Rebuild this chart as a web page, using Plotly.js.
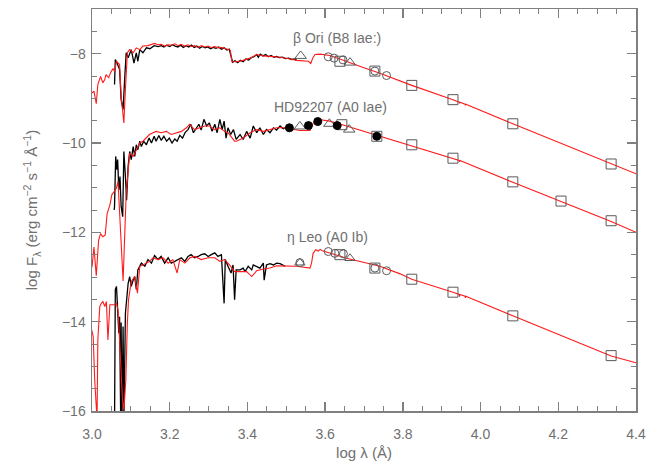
<!DOCTYPE html>
<html>
<head>
<meta charset="utf-8">
<script src="https://cdn.plot.ly/plotly-3.0.1.min.js"></script>
<style>html,body{margin:0;padding:0;background:#fff;}#chart{width:654px;height:467px;}</style>
</head>
<body>
<div id="chart"></div>
<script>
// ---- beta Ori (B8 Iae:) ----
const betaModelX = [3.000,3.005,3.011,3.015,3.022,3.028,3.033,3.036,3.043,3.048,3.054,3.058,3.063,3.067,3.071,3.075,3.082,3.086,3.091,3.097,3.106,3.114,3.123,3.131,3.144,3.161,3.170,3.178,3.187,3.196,3.205,3.213,3.222,3.229,3.238,3.247,3.256,3.264,3.272,3.281,3.290,3.299,3.307,3.316,3.325,3.332,3.342,3.350,3.356,3.360,3.372,3.389,3.407,3.424,3.441,3.458,3.484,3.510,3.527,3.557,3.563,3.568,3.574,3.587,3.612,3.638,3.664,3.698,3.741,3.793,3.823,3.929,3.945,3.946,3.947,3.960,3.961,3.962,4.083,4.336,4.400];
const betaModelY = [-8.88,-8.84,-9.12,-8.69,-8.51,-8.65,-8.58,-8.47,-8.54,-8.42,-8.33,-8.40,-8.17,-8.20,-8.24,-8.95,-9.55,-8.80,-7.98,-7.91,-7.98,-7.87,-7.91,-7.83,-7.82,-7.77,-7.80,-7.79,-7.83,-7.80,-7.81,-7.78,-7.82,-7.79,-7.83,-7.80,-7.84,-7.82,-7.86,-7.82,-7.85,-7.83,-7.86,-7.84,-7.87,-7.86,-7.88,-7.90,-7.92,-8.18,-8.18,-8.15,-8.10,-8.02,-8.05,-8.06,-8.08,-8.12,-8.15,-8.17,-8.22,-8.10,-8.02,-8.01,-8.04,-8.12,-8.21,-8.31,-8.44,-8.62,-8.71,-9.03,-9.085,-9.11,-9.085,-9.13,-9.155,-9.13,-9.57,-10.47,-10.69];
const betaObsX = [3.058,3.060,3.063,3.067,3.071,3.075,3.080,3.084,3.088,3.093,3.101,3.108,3.114,3.118,3.123,3.131,3.140,3.149,3.160,3.170,3.178,3.185,3.192,3.200,3.207,3.214,3.221,3.228,3.235,3.242,3.249,3.256,3.263,3.270,3.277,3.284,3.291,3.298,3.305,3.312,3.319,3.326,3.333,3.340,3.347,3.353,3.358,3.362,3.368,3.375,3.382,3.389,3.396,3.403,3.410,3.417,3.424,3.428,3.433,3.440,3.447,3.454,3.461,3.468,3.475,3.482,3.490,3.498,3.506,3.514,3.521,3.527];
const betaObsY = [-8.69,-8.13,-8.18,-8.27,-8.35,-9.03,-9.25,-8.58,-7.98,-8.09,-7.91,-8.21,-7.98,-8.17,-7.91,-7.98,-7.87,-7.89,-7.82,-7.84,-7.82,-7.85,-7.81,-7.84,-7.80,-7.83,-7.85,-7.81,-7.86,-7.82,-7.85,-7.81,-7.86,-7.83,-7.88,-7.84,-7.87,-7.85,-7.89,-7.86,-7.88,-7.85,-7.90,-7.87,-7.92,-7.90,-8.05,-8.19,-8.16,-8.20,-8.15,-8.18,-8.12,-8.14,-8.09,-8.07,-8.02,-8.08,-8.01,-8.05,-8.02,-8.07,-8.04,-8.08,-8.06,-8.09,-8.08,-8.11,-8.10,-8.13,-8.12,-8.15];
const betaTriX = [3.537,3.664], betaTriY = [-8.05,-8.20];
const betaCircX = [3.608,3.623,3.646,3.728,3.758], betaCircY = [-8.07,-8.10,-8.14,-8.39,-8.49];
const betaSqX = [3.638,3.728,3.823,3.929,4.083,4.336], betaSqY = [-8.17,-8.39,-8.71,-9.03,-9.57,-10.47];

// ---- HD92207 (A0 Iae) ----
const hdModelX = [3.000,3.005,3.011,3.017,3.022,3.028,3.034,3.039,3.046,3.051,3.057,3.063,3.067,3.071,3.075,3.080,3.088,3.093,3.097,3.106,3.114,3.123,3.131,3.140,3.148,3.157,3.165,3.178,3.191,3.204,3.217,3.230,3.243,3.251,3.264,3.277,3.290,3.303,3.316,3.329,3.341,3.350,3.358,3.367,3.372,3.389,3.407,3.424,3.441,3.458,3.475,3.492,3.510,3.535,3.561,3.569,3.580,3.612,3.655,3.741,3.793,3.929,3.945,3.946,3.947,4.083,4.207,4.336,4.400];
const hdModelY = [-12.78,-12.33,-12.97,-12.18,-12.03,-12.10,-12.06,-11.58,-11.39,-11.16,-11.09,-11.01,-10.86,-11.65,-12.40,-13.09,-11.13,-10.60,-10.23,-10.30,-10.15,-10.00,-9.96,-9.89,-9.81,-9.77,-9.74,-9.77,-9.74,-9.81,-9.77,-9.74,-9.66,-9.58,-9.70,-9.66,-9.62,-9.62,-9.70,-9.66,-9.74,-9.77,-9.85,-9.96,-9.96,-9.89,-9.77,-9.70,-9.74,-9.70,-9.66,-9.66,-9.68,-9.72,-9.72,-9.56,-9.47,-9.51,-9.62,-9.85,-9.99,-10.34,-10.39,-10.42,-10.39,-10.88,-11.31,-11.76,-12.00];
const hdObsX = [3.057,3.058,3.061,3.064,3.066,3.069,3.072,3.075,3.079,3.082,3.086,3.089,3.093,3.097,3.101,3.106,3.110,3.114,3.118,3.123,3.127,3.133,3.140,3.147,3.153,3.160,3.165,3.172,3.178,3.185,3.192,3.199,3.206,3.213,3.219,3.226,3.233,3.240,3.247,3.254,3.261,3.268,3.275,3.281,3.288,3.295,3.302,3.309,3.316,3.322,3.329,3.335,3.340,3.345,3.350,3.357,3.364,3.371,3.381,3.389,3.398,3.407,3.415,3.424,3.432,3.441,3.449,3.458,3.467,3.475,3.484,3.492,3.501,3.511,3.518];
const hdObsY = [-11.50,-11.42,-10.30,-10.60,-10.37,-11.05,-10.75,-11.42,-11.65,-10.19,-10.75,-11.28,-10.52,-10.19,-10.37,-10.08,-10.30,-10.04,-10.15,-9.96,-10.08,-9.96,-10.04,-9.89,-10.00,-9.85,-9.96,-9.83,-9.94,-9.85,-9.96,-9.89,-10.00,-9.91,-9.96,-9.83,-9.89,-9.76,-9.70,-9.58,-9.77,-9.66,-9.58,-9.71,-9.47,-9.62,-9.55,-9.74,-9.58,-9.77,-9.47,-9.70,-9.51,-9.89,-9.66,-9.81,-9.70,-9.92,-9.81,-9.92,-9.74,-9.89,-9.62,-9.77,-9.66,-9.81,-9.70,-9.77,-9.66,-9.71,-9.62,-9.68,-9.64,-9.70,-9.71];
const hdDotX = [3.508,3.557,3.581,3.631,3.733], hdDotY = [-9.66,-9.61,-9.52,-9.61,-9.85];
const hdTriX = [3.535,3.611,3.662], hdTriY = [-9.63,-9.57,-9.70];
const hdSqX = [3.643,3.733,3.823,3.929,4.083,4.207,4.336], hdSqY = [-9.59,-9.85,-10.04,-10.34,-10.87,-11.30,-11.74];

// ---- eta Leo (A0 Ib) ----
const etaModelX = [2.999,3.003,3.007,3.011,3.013,3.015,3.020,3.024,3.028,3.033,3.037,3.041,3.046,3.050,3.054,3.058,3.063,3.067,3.071,3.075,3.078,3.082,3.087,3.091,3.094,3.101,3.110,3.117,3.123,3.131,3.140,3.148,3.157,3.170,3.183,3.196,3.208,3.219,3.226,3.239,3.252,3.264,3.281,3.299,3.316,3.329,3.341,3.354,3.367,3.381,3.398,3.411,3.424,3.441,3.458,3.475,3.492,3.527,3.561,3.565,3.569,3.576,3.582,3.587,3.593,3.600,3.612,3.655,3.698,3.741,3.793,3.823,3.929,3.945,3.946,3.947,3.960,3.961,3.962,4.083,4.336,4.400];
const etaModelY = [-14.18,-14.33,-15.31,-15.98,-16.19,-14.41,-13.66,-13.59,-13.55,-13.66,-13.55,-14.41,-13.62,-13.62,-13.62,-13.62,-13.59,-13.74,-14.41,-15.31,-15.68,-15.98,-15.31,-14.03,-13.51,-13.10,-12.99,-13.36,-12.76,-12.73,-12.69,-12.65,-12.57,-12.61,-12.57,-12.69,-12.61,-12.91,-12.61,-12.69,-12.57,-12.54,-12.61,-12.57,-12.57,-12.65,-12.61,-12.73,-12.88,-12.88,-12.88,-12.99,-12.86,-12.82,-12.80,-12.75,-12.75,-12.76,-12.80,-12.69,-12.47,-12.39,-12.42,-12.38,-12.41,-12.43,-12.47,-12.58,-12.67,-12.76,-12.93,-13.05,-13.34,-13.39,-13.44,-13.39,-13.43,-13.47,-13.43,-13.87,-14.77,-14.92];
const etaObsX = [3.058,3.060,3.063,3.065,3.069,3.071,3.074,3.075,3.077,3.080,3.082,3.086,3.089,3.093,3.097,3.101,3.106,3.110,3.114,3.118,3.127,3.136,3.144,3.153,3.161,3.170,3.178,3.187,3.196,3.204,3.213,3.221,3.230,3.239,3.247,3.255,3.264,3.273,3.281,3.290,3.299,3.307,3.316,3.324,3.333,3.340,3.343,3.350,3.358,3.363,3.367,3.371,3.381,3.389,3.394,3.402,3.411,3.415,3.424,3.432,3.441,3.443,3.449,3.458,3.467,3.475,3.484,3.492,3.497];
const etaObsY = [-16.3,-13.28,-13.21,-13.66,-14.26,-13.89,-16.3,-14.02,-16.3,-14.11,-16.3,-13.81,-13.44,-13.14,-12.99,-13.21,-13.07,-12.99,-13.28,-12.84,-12.69,-12.76,-12.61,-12.69,-12.52,-12.61,-12.54,-12.69,-12.57,-12.69,-12.65,-12.61,-12.57,-12.65,-12.54,-12.50,-12.57,-12.54,-12.50,-12.48,-12.54,-12.50,-12.46,-12.54,-12.50,-13.59,-12.61,-12.76,-12.91,-12.73,-13.51,-12.84,-12.84,-12.80,-12.88,-12.76,-12.84,-12.73,-12.76,-12.80,-12.69,-13.07,-12.73,-12.70,-12.73,-12.69,-12.70,-12.73,-12.76];
const etaTriX = [3.535,3.664], etaTriY = [-12.68,-12.58];
const etaCircX = [3.535,3.608,3.625,3.647,3.728,3.758], etaCircY = [-12.68,-12.43,-12.47,-12.48,-12.80,-12.86];
const etaSqX = [3.638,3.728,3.823,3.929,4.083,4.336], etaSqY = [-12.50,-12.80,-13.05,-13.34,-13.87,-14.76];

const starLabels = ['\u03b2 Ori (B8 Iae:)', 'HD92207 (A0 Iae)', '\u03b7 Leo (A0 Ib)'];
const xTickVals = [3.0,3.2,3.4,3.6,3.8,4.0,4.2,4.4];
const xTickText = ['3.0','3.2','3.4','3.6','3.8','4.0','4.2','4.4'];
const yTickVals = [-16,-14,-12,-10,-8];
const yTickText = ['\u221216','\u221214','\u221212','\u221210','\u22128'];

const GRAY = '#707070';
const MKGRAY = '#5a5a5a';
const obs = (x,y) => ({x, y, type:'scatter', mode:'lines', line:{color:'#000', width:1.3}, hoverinfo:'skip'});
const mod = (x,y) => ({x, y, type:'scatter', mode:'lines', line:{color:'#ff1a1a', width:1.1}, hoverinfo:'skip'});
const mk = (x,y,sym,size,fill) => ({x, y, type:'scatter', mode:'markers', cliponaxis:false,
  marker:{symbol:sym, size:size, color: fill || MKGRAY, line:{color: fill ? fill : MKGRAY, width:1}}});

const data = [
  obs(betaObsX, betaObsY), mod(betaModelX, betaModelY),
  obs(hdObsX, hdObsY), mod(hdModelX, hdModelY),
  obs(etaObsX, etaObsY), mod(etaModelX, etaModelY),
  mk(betaTriX, betaTriY, 'triangle-up-open', 10), mk(betaCircX, betaCircY, 'circle-open', 8), mk(betaSqX, betaSqY, 'square-open', 10),
  mk(hdTriX, hdTriY, 'triangle-up-open', 10), mk(hdSqX, hdSqY, 'square-open', 10), mk(hdDotX, hdDotY, 'circle', 8, '#000'),
  mk(etaTriX, etaTriY, 'triangle-up-open', 9), mk(etaCircX, etaCircY, 'circle-open', 8), mk(etaSqX, etaSqY, 'square-open', 10)
];

const fontFam = 'Liberation Sans, Arial, sans-serif';
const axisCommon = {
  showline:true, mirror:'ticks', linecolor:'#808080', linewidth:1.5,
  ticks:'inside', ticklen:9, tickwidth:1.3, tickcolor:'#808080',
  showgrid:false, zeroline:false,
  tickfont:{family:fontFam, size:14, color:GRAY}
};

const layout = {
  width:654, height:467,
  margin:{l:92, r:18, t:9, b:56},
  paper_bgcolor:'#fff', plot_bgcolor:'#fff',
  showlegend:false,
  font:{family:fontFam, color:GRAY},
  xaxis: Object.assign({}, axisCommon, {
    range:[3.0,4.4], tickmode:'array', tickvals:xTickVals, ticktext:xTickText,
    ticklabelstandoff:10,
    minor:{ticks:'inside', dtick:0.05, tick0:3.0, ticklen:5, tickcolor:'#808080', tickwidth:1},
    title:{text:'log \u03bb (\u00c5)', font:{family:fontFam, size:15, color:GRAY}, standoff:6}
  }),
  yaxis: Object.assign({}, axisCommon, {
    range:[-16,-7], tickmode:'array', tickvals:yTickVals, ticktext:yTickText,
    ticklabelstandoff:2,
    minor:{ticks:'inside', dtick:0.5, tick0:-16, ticklen:5, tickcolor:'#808080', tickwidth:1},
    title:{text:'log F<sub>\u03bb</sub> (erg cm<sup>\u22122</sup> s<sup>\u22121</sup> \u00c5<sup>\u22121</sup>)', font:{family:fontFam, size:15, color:GRAY}, standoff:20}
  }),
  annotations:[
    {x:3.630, y:-7.64, xref:'x', yref:'y', text:starLabels[0], showarrow:false, font:{family:fontFam, size:14, color:GRAY}},
    {x:3.615, y:-9.19, xref:'x', yref:'y', text:starLabels[1], showarrow:false, font:{family:fontFam, size:14, color:GRAY}},
    {x:3.607, y:-12.10, xref:'x', yref:'y', text:starLabels[2], showarrow:false, font:{family:fontFam, size:14, color:GRAY}}
  ]
};

Plotly.newPlot('chart', data, layout, {staticPlot:true, displayModeBar:false});
</script>
</body>
</html>
